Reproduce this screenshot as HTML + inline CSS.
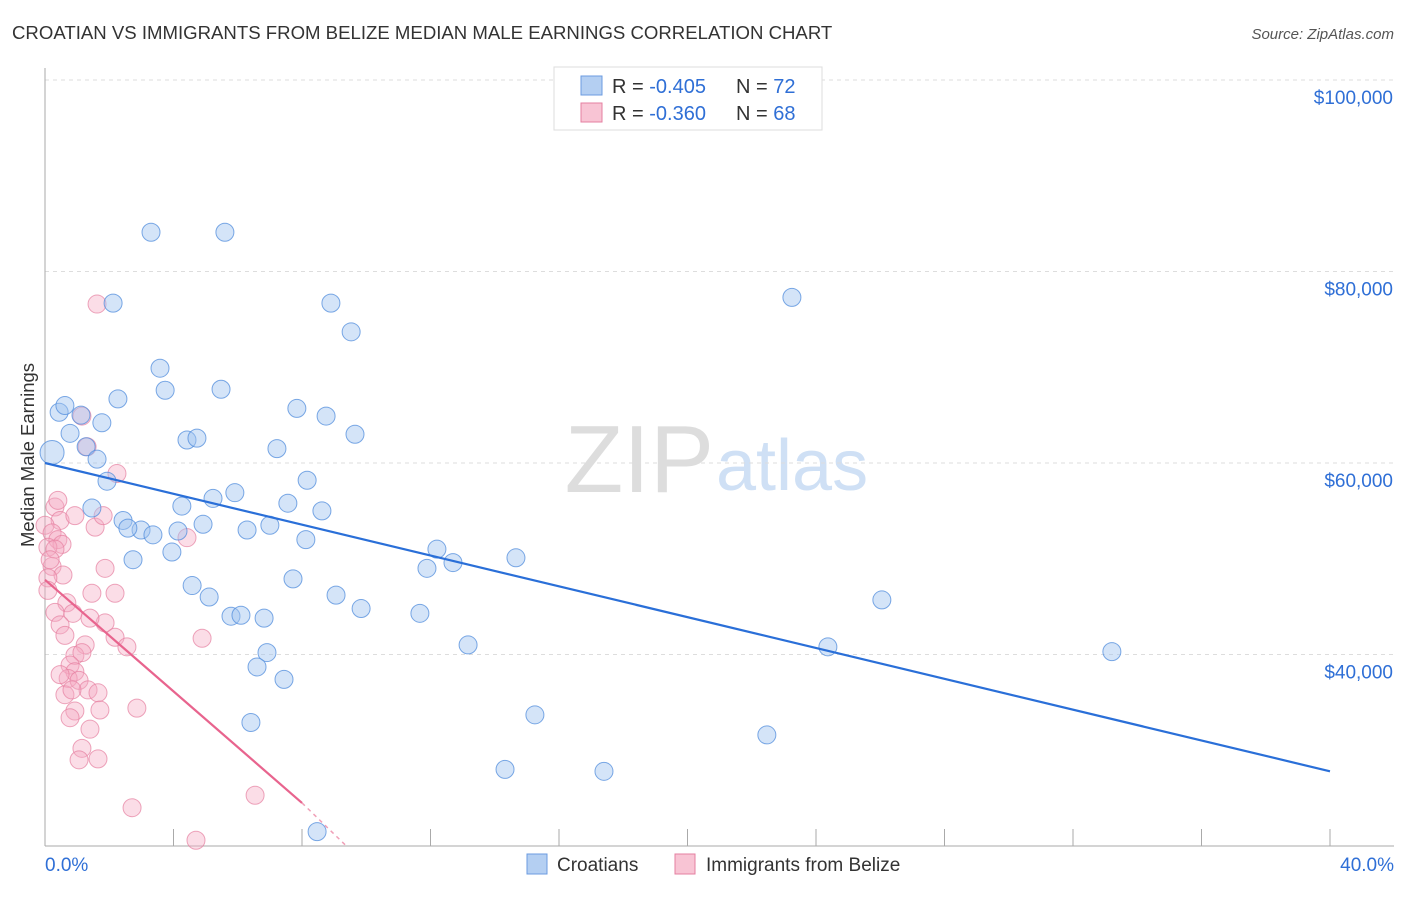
<!DOCTYPE html>
<html><head><meta charset="utf-8"><style>
body{margin:0;background:#fff;font-family:"Liberation Sans",sans-serif;}
svg text{font-family:"Liberation Sans",sans-serif;}
</style></head><body>
<svg id="chart" width="1406" height="892">
<text x="12" y="39" font-size="18.6" fill="#333">CROATIAN VS IMMIGRANTS FROM BELIZE MEDIAN MALE EARNINGS CORRELATION CHART</text>
<text x="1394" y="39" font-size="15" fill="#555" font-style="italic" text-anchor="end">Source: ZipAtlas.com</text>
<text x="714" y="492" font-size="96" fill="#ddd" font-family="Liberation Serif" text-anchor="end">ZIP</text>
<text x="716" y="490" font-size="72" fill="#cfe0f5">atlas</text>
<text transform="translate(34,455) rotate(-90)" font-size="18.5" fill="#333" text-anchor="middle">Median Male Earnings</text>
<g id="grid"></g><g id="axes"></g><g id="marks"></g>
<g>
<rect x="554" y="67" width="268" height="63" fill="#fff" stroke="#ddd"/>
<rect x="581" y="76" width="21" height="19" fill="#b4cff2" stroke="#6b9be0"/>
<rect x="581" y="103" width="21" height="19" fill="#f8c4d4" stroke="#e57fa0"/>
<text x="612" y="93" font-size="20" fill="#333">R = <tspan fill="#2f6fd6">-0.405</tspan></text>
<text x="736" y="93" font-size="20" fill="#333">N = <tspan fill="#2f6fd6">72</tspan></text>
<text x="612" y="120" font-size="20" fill="#333">R = <tspan fill="#2f6fd6">-0.360</tspan></text>
<text x="736" y="120" font-size="20" fill="#333">N = <tspan fill="#2f6fd6">68</tspan></text>
</g>
<g>
<rect x="527" y="854" width="20" height="20" fill="#b4cff2" stroke="#6b9be0"/>
<text x="557" y="871" font-size="19" fill="#333">Croatians</text>
<rect x="675" y="854" width="20" height="20" fill="#f8c4d4" stroke="#e57fa0"/>
<text x="706" y="871" font-size="19" fill="#333">Immigrants from Belize</text>
</g>
</svg>
<script>
const yTickValues=[40000,60000,80000,100000];
const yTickLabels=["$40,000","$60,000","$80,000","$100,000"];
const xEndLabels=["0.0%","40.0%"];
const blueX=[3.30,5.60,2.12,8.90,23.25,9.53,3.58,3.74,5.48,2.27,0.44,0.62,1.12,7.84,8.75,1.77,0.78,9.65,4.42,4.73,1.28,7.22,0.22,1.62,1.93,8.16,1.46,4.26,5.23,5.91,7.56,8.62,2.43,2.99,2.58,3.36,4.14,4.92,6.29,7.00,8.12,3.95,2.74,12.20,14.66,12.70,11.89,4.58,5.11,7.72,9.06,9.84,11.67,5.79,6.10,6.82,13.17,24.37,26.05,33.21,6.91,6.60,7.44,15.25,6.41,22.47,14.32,17.40,8.47];
const blueY=[84.1,84.1,76.7,76.7,77.3,73.7,69.9,67.6,67.7,66.7,65.3,66.0,65.0,65.7,64.9,64.2,63.1,63.0,62.4,62.6,61.7,61.5,61.1,60.4,58.1,58.2,55.3,55.5,56.3,56.9,55.8,55.0,54.0,53.0,53.2,52.5,52.9,53.6,53.0,53.5,52.0,50.7,49.9,51.0,50.1,49.6,49.0,47.2,46.0,47.9,46.2,44.8,44.3,44.0,44.1,43.8,41.0,40.8,45.7,40.3,40.2,38.7,37.4,33.7,32.9,31.6,28.0,27.8,21.5];
const pinkX=[1.62,1.15,1.31,2.24,0.31,0.47,0.93,0.0,0.22,0.40,0.53,0.09,0.31,1.56,4.42,1.87,0.22,0.56,0.09,2.18,1.46,0.68,0.31,0.87,1.87,1.40,0.47,0.62,1.25,2.18,4.89,2.55,0.93,1.15,0.78,0.93,0.72,0.47,1.06,1.34,0.62,1.65,0.84,0.93,0.78,1.71,2.86,1.40,1.15,1.06,1.65,2.71,6.54,4.70,0.09,0.16,0.40,1.81];
const pinkY=[76.6,64.9,61.7,58.9,55.4,54.0,54.5,53.5,52.7,52.0,51.5,51.2,51.0,53.3,52.2,49.0,49.2,48.3,48.0,46.4,46.4,45.4,44.4,44.3,43.3,43.8,43.1,42.0,41.0,41.8,41.7,40.8,39.9,40.2,38.9,38.2,37.5,37.9,37.3,36.3,35.8,36.0,36.3,34.1,33.4,34.2,34.4,32.2,30.2,29.0,29.1,24.0,25.3,20.6,46.7,49.9,56.1,54.5];
const blueTrend=[60.0,27.8];
const pinkTrend=[47.8,24.5,20.1];
const pinkTrendX=[0,8,9.35];
const NS="http://www.w3.org/2000/svg";
const xs=p=>45+p*32.125;
const ys=v=>846-(v-20000)*0.009575;
function mk(t,a,parent){const e=document.createElementNS(NS,t);for(const k in a)e.setAttribute(k,a[k]);parent.appendChild(e);return e;}
const grid=document.getElementById('grid'),axes=document.getElementById('axes'),marks=document.getElementById('marks');
yTickValues.forEach((v,i)=>{
 const l=mk('line',{x1:45,x2:1394,y1:ys(v),y2:ys(v),stroke:'#ddd','stroke-dasharray':'4,4'},grid);
 
 
 const t=mk('text',{x:1393,y:ys(v)+24,'font-size':19,fill:'#2f6fd6','text-anchor':'end'},axes);
 t.textContent=yTickLabels[i];
 
 
});
const ax=mk('line',{x1:45,x2:1394,y1:846,y2:846,stroke:'#aaa'},axes);


const ay=mk('line',{x1:45,x2:45,y1:68,y2:846,stroke:'#aaa'},axes);


for(let p=4;p<=40;p+=4){
 const tk=mk('line',{x1:xs(p),x2:xs(p),y1:829,y2:846,stroke:'#aaa'},axes);
 
 
}
[[0,'start',45],[40,'end',1394]].forEach((d,i)=>{
 const t=mk('text',{x:d[2],y:871,'font-size':19,fill:'#2f6fd6','text-anchor':d[1]},axes);
 t.textContent=xEndLabels[i];
 
 
});
pinkX.forEach((p,i)=>{
 const c=mk('circle',{cx:xs(p),cy:ys(pinkY[i]*1000),r:9,fill:'rgba(245,170,195,0.4)',stroke:'rgba(229,127,160,0.7)','stroke-width':1},marks);
 
 
});
blueX.forEach((p,i)=>{
 const c=mk('circle',{cx:xs(p),cy:ys(blueY[i]*1000),r:(i==22?12:9),fill:'rgba(160,195,240,0.45)',stroke:'rgba(80,140,220,0.75)','stroke-width':1},marks);
 
 
});
const bl=mk('line',{x1:xs(0),y1:ys(blueTrend[0]*1000),x2:xs(40),y2:ys(blueTrend[1]*1000),stroke:'#2a6fd8','stroke-width':2.2},marks);


const pl=mk('line',{x1:xs(pinkTrendX[0]),y1:ys(pinkTrend[0]*1000),x2:xs(pinkTrendX[1]),y2:ys(pinkTrend[1]*1000),stroke:'#e8648e','stroke-width':2.2},marks);


const pd=mk('line',{x1:xs(pinkTrendX[1]),y1:ys(pinkTrend[1]*1000),x2:xs(pinkTrendX[2]),y2:ys(pinkTrend[2]*1000),stroke:'#f0a0b8','stroke-width':1.5,'stroke-dasharray':'4,4'},marks);


</script>
</body></html>
